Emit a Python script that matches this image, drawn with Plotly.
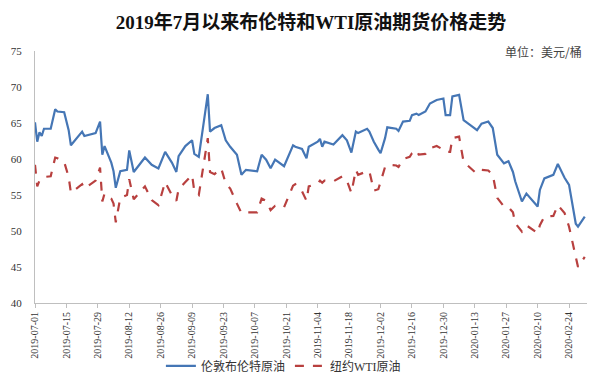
import plotly.graph_objects as go

dates = [
    "2019-07-01", "2019-07-02", "2019-07-03", "2019-07-04", "2019-07-05", "2019-07-08",
    "2019-07-10", "2019-07-11", "2019-07-14", "2019-07-16", "2019-07-17", "2019-07-22",
    "2019-07-23", "2019-07-28", "2019-07-30", "2019-07-31", "2019-08-01", "2019-08-04",
    "2019-08-05", "2019-08-06", "2019-08-08", "2019-08-11", "2019-08-12", "2019-08-14",
    "2019-08-19", "2019-08-22", "2019-08-25", "2019-08-28", "2019-08-31", "2019-09-02",
    "2019-09-03", "2019-09-06", "2019-09-09", "2019-09-10", "2019-09-12", "2019-09-16",
    "2019-09-17", "2019-09-19", "2019-09-22", "2019-09-24", "2019-09-26", "2019-09-29",
    "2019-10-01", "2019-10-03", "2019-10-08", "2019-10-10", "2019-10-12", "2019-10-14",
    "2019-10-16", "2019-10-20", "2019-10-24", "2019-10-25", "2019-10-28", "2019-10-30",
    "2019-10-31", "2019-11-04", "2019-11-05", "2019-11-06", "2019-11-07", "2019-11-11",
    "2019-11-15", "2019-11-17", "2019-11-19", "2019-11-21", "2019-11-22", "2019-11-26",
    "2019-11-27", "2019-11-29", "2019-12-01", "2019-12-02", "2019-12-04", "2019-12-05",
    "2019-12-09", "2019-12-10", "2019-12-12", "2019-12-15", "2019-12-16", "2019-12-18",
    "2019-12-19", "2019-12-22", "2019-12-24", "2019-12-27", "2019-12-30", "2019-12-31",
    "2020-01-02", "2020-01-03", "2020-01-06", "2020-01-08", "2020-01-11", "2020-01-13",
    "2020-01-14", "2020-01-16", "2020-01-19", "2020-01-21", "2020-01-23", "2020-01-26",
    "2020-01-28", "2020-01-30", "2020-01-31", "2020-02-03", "2020-02-05", "2020-02-10",
    "2020-02-11", "2020-02-13", "2020-02-17", "2020-02-19", "2020-02-22", "2020-02-24",
    "2020-02-27", "2020-02-28", "2020-03-02",
]

brent = [
    65.1, 62.4, 63.7, 63.2, 64.2, 64.2,
    66.9, 66.6, 66.5, 64.0, 61.9, 63.8,
    63.2, 63.6, 65.2, 60.6, 61.8, 59.5,
    58.3, 56.0, 58.3, 58.5, 61.2, 58.2,
    60.2, 59.2, 58.7, 61.0, 59.5, 58.2,
    60.4, 61.8, 62.6, 60.7, 60.3, 69.0,
    63.8, 64.3, 64.7, 62.6, 61.7, 60.6,
    57.8, 58.5, 58.3, 60.6, 59.9, 58.7,
    59.9, 59.0, 61.9, 61.7, 61.4, 60.1,
    61.7, 62.4, 62.8, 61.7, 62.4, 62.0,
    63.3, 62.6, 60.9, 63.8, 63.6, 64.2,
    63.8, 62.4, 61.3, 60.8, 62.9, 64.4,
    64.2, 63.9, 65.2, 65.3, 66.1, 66.3,
    66.1, 66.6, 67.7, 68.2, 68.4, 66.1,
    66.1, 68.7, 68.9, 65.4, 64.7, 64.2,
    64.0, 64.9, 65.2, 64.3, 60.6, 59.4,
    59.7, 58.2, 56.9, 54.1, 55.2, 53.4,
    55.7, 57.3, 57.8, 59.3, 57.4, 56.4,
    51.0, 50.6, 52.0,
]

wti = [
    59.2, 56.2, 57.0, 57.2, 57.5, 57.6,
    60.2, 60.1, 59.6, 57.5, 55.3, 56.5,
    55.9, 57.0, 58.8, 54.1, 55.2, 54.5,
    53.8, 51.2, 54.6, 55.0, 57.2, 54.4,
    56.2, 54.3, 53.6, 56.8, 55.0, 54.2,
    55.8, 56.8, 57.8, 55.5, 55.0, 62.9,
    58.2, 57.9, 58.7, 56.6, 55.9, 53.8,
    52.5, 52.6, 52.6, 54.5, 54.2, 52.9,
    53.5, 53.3, 56.3, 56.5, 55.5, 54.2,
    56.2, 56.6, 57.0, 56.7, 57.0, 56.9,
    57.6, 57.0, 55.3, 58.5, 57.8, 58.3,
    58.3, 55.6, 55.8, 56.8, 58.9, 59.2,
    59.1, 58.9, 60.0, 60.3, 60.8, 61.25,
    60.6, 60.7, 61.5, 61.8, 61.3, 61.0,
    61.0, 62.9, 63.1, 59.6, 58.7, 58.2,
    58.0, 58.5, 58.4, 57.8, 54.6, 53.4,
    53.3, 52.6, 51.1, 49.9, 50.8, 49.7,
    50.8, 52.0, 52.1, 53.6, 52.5, 50.6,
    46.4, 45.0, 46.4,
]

tick_dates = [
    "2019-07-01", "2019-07-15", "2019-07-29", "2019-08-12", "2019-08-26", "2019-09-09",
    "2019-09-23", "2019-10-07", "2019-10-21", "2019-11-04", "2019-11-18", "2019-12-02",
    "2019-12-16", "2019-12-30", "2020-01-13", "2020-01-27", "2020-02-10", "2020-02-24",
]
y_ticks = [40, 45, 50, 55, 60, 65, 70, 75]

series_names = ["伦敦布伦特原油", "纽约WTI原油"]
title_text = "2019年7月以来布伦特和WTI原油期货价格走势"
unit_text = "单位：美元/桶"

SERIF = "Liberation Serif, Times New Roman, Noto Sans CJK SC, serif"

fig = go.Figure()
fig.add_trace(go.Scatter(
    x=dates, y=brent, mode="lines", name=series_names[0],
    line=dict(color="#4576B5", width=2.2),
))
fig.add_trace(go.Scatter(
    x=dates, y=wti, mode="lines", name=series_names[1],
    line=dict(color="#B8403F", width=2.2, dash="dash"),
))

fig.update_layout(
    width=600, height=380,
    margin=dict(l=35, r=13, t=51, b=77, autoexpand=False),
    paper_bgcolor="white", plot_bgcolor="white",
    showlegend=True,
    legend=dict(
        orientation="h", x=0.45, xanchor="center",
        yref="container", y=0.037, yanchor="middle",
        font=dict(family=SERIF, size=12, color="#333333"),
        itemwidth=30, tracegroupgap=0,
        bgcolor="rgba(0,0,0,0)",
    ),
    title=dict(
        text="<b>" + title_text + "</b>",
        x=0.5, xanchor="center", xref="paper", y=0.94, yanchor="middle", yref="container",
        font=dict(family=SERIF, size=19, color="#111111"),
    ),
    annotations=[dict(
        text=unit_text, xref="paper", yref="paper", x=0.995, y=1.0,
        xanchor="right", yanchor="middle", showarrow=False,
        font=dict(family="Noto Sans CJK SC, sans-serif", size=12, color="#444444"),
    )],
)

fig.update_xaxes(
    type="date",
    range=["2019-07-01", "2020-03-03"],
    tickvals=tick_dates, ticktext=tick_dates,
    tickangle=-90,
    tickfont=dict(family=SERIF, size=10, color="#333333"),
    showgrid=False, zeroline=False,
    showline=True, linecolor="#BFBFBF", linewidth=1,
    ticks="outside", ticklen=4, tickcolor="#BFBFBF",
    automargin=False,
)
fig.update_yaxes(
    range=[40, 75],
    tickvals=y_ticks,
    tickfont=dict(family=SERIF, size=11, color="#333333"),
    showgrid=False, zeroline=False,
    showline=True, linecolor="#BFBFBF", linewidth=1,
    ticks="", ticklen=0, ticklabelstandoff=10,
    automargin=False,
)

fig.write_html(
    "out.html",
    config={"displayModeBar": False},
    post_script="document.body.style.margin='0';document.body.style.overflow='hidden';",
)
